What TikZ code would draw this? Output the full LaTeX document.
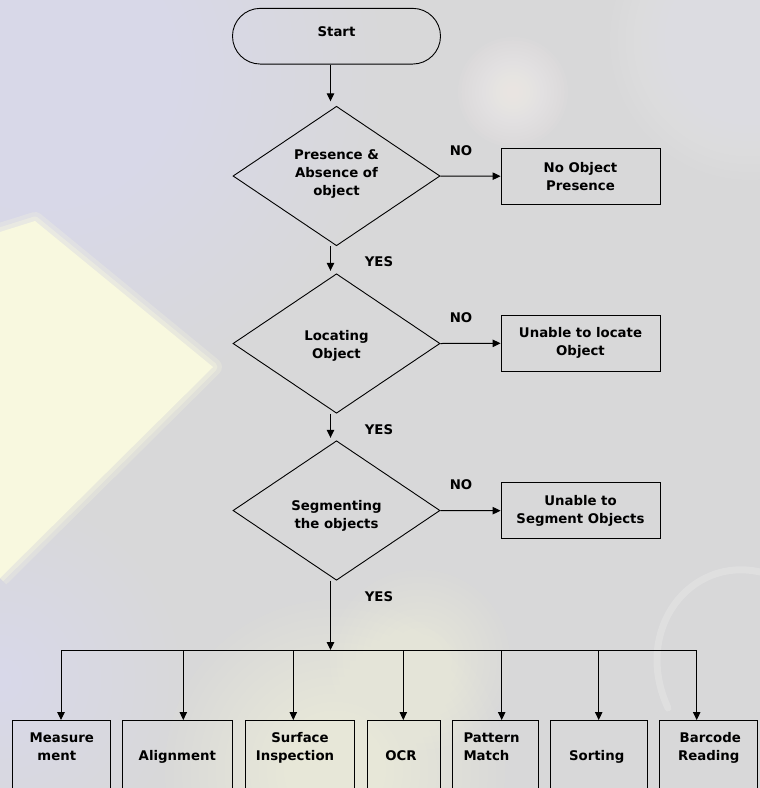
\documentclass[tikz,border=0pt]{standalone}
\usepackage{fontspec}
\setmainfont{DejaVu Sans}
\usetikzlibrary{shapes.geometric,arrows.meta}
\definecolor{bgbase}{HTML}{D8D8D9}
\definecolor{lav}{HTML}{E4E4FA}
\definecolor{yel}{HTML}{F8F8DF}
\definecolor{glow}{HTML}{F7F7D8}
\definecolor{spot}{HTML}{F7F2EF}
\definecolor{pale}{HTML}{EFEFF4}
\newcommand{\mytop}{\rule{0pt}{10.5pt}}
\newcommand{\myblob}[5]{\foreach \k in {1,...,#4}{\fill[#1,opacity=#5] #2 circle ({(\k*#3/#4)*1pt});}}
\begin{document}
\begin{tikzpicture}[x=1pt,y=-1pt,
  txt/.style={font=\bfseries\fontsize{13.3}{18}\selectfont, text=black, inner sep=0pt, align=center},
  box/.style={draw=black, line width=0.9pt, rectangle, inner sep=0pt},
  dia/.style={draw=black, line width=0.9pt, diamond, inner sep=0pt, minimum width=207pt, minimum height=139.5pt},
  ln/.style={draw=black, line width=1pt},
  arr/.style={ln, -{Triangle[length=8pt,width=7.5pt]}}]
\useasboundingbox (0,0) rectangle (760,788);
\clip (0,0) rectangle (760,788);
% ---------- washed-out background ----------
\fill[bgbase] (0,0) rectangle (760,788);
\myblob{lav}{(40,70)}{340}{24}{0.055}
\myblob{lav}{(0,680)}{180}{16}{0.06}
\myblob{pale}{(750,40)}{140}{18}{0.05}
\myblob{spot}{(513,92)}{55}{16}{0.07}
\myblob{glow}{(335,770)}{170}{20}{0.06}
\myblob{glow}{(420,660)}{90}{14}{0.05}
\draw[yel, opacity=0.25, line width=18pt, line join=round] (0,232) -- (35,221) -- (213,367) -- (0,578);
\draw[yel, opacity=0.4, line width=9pt, line join=round] (0,232) -- (35,221) -- (213,367) -- (0,578);
\fill[yel] (0,232) -- (35,221) -- (213,367) -- (0,578) -- cycle;
\draw[white, opacity=0.18, line width=7pt, line cap=round] (760,572) .. controls (690,556) and (632,630) .. (668,708);
% ---------- flowchart ----------
\node[box, rounded corners=27.8pt, minimum width=208pt, minimum height=55.7pt] (start) at (336.5,36.2) {};
\node[txt] (startt) at (336.5,31.5) {Start};

\node[dia] (d1) at (336.5,176) {};
\node[txt] (d1t) at (336.5,173.5) {Presence \&\\Absence of\\object};
\node[dia] (d2) at (336.5,343.5) {};
\node[txt] (d2t) at (336.5,346) {Locating\\Object};
\node[dia] (d3) at (336.5,510.5) {};
\node[txt] (d3t) at (336.5,516) {Segmenting\\the objects};

\node[box, txt, minimum width=159pt, minimum height=56pt] (n1) at (580.5,176.2) {No Object\\Presence};
\node[box, txt, minimum width=159pt, minimum height=56pt] (n2) at (580.5,343.3) {Unable to locate\\Object};
\node[box, txt, minimum width=159pt, minimum height=56pt] (n3) at (580.5,510.7) {Unable to\\Segment Objects};

\node[txt] (no1) at (461,150.5) {NO};
\node[txt] (no2) at (461,318) {NO};
\node[txt] (no3) at (461,485) {NO};
\node[txt] (yes1) at (379,261.3) {YES};
\node[txt] (yes2) at (379,429.6) {YES};
\node[txt] (yes3) at (379,596.2) {YES};

\draw[arr] ([xshift=-6pt]start.south) -- ([xshift=-6pt,yshift=4.5pt]d1.north);
\draw[arr] ([xshift=-6pt]d1.south) -- ([xshift=-6pt,yshift=2.5pt]d2.north);
\draw[arr] ([xshift=-6pt]d2.south) -- ([xshift=-6pt,yshift=2.5pt]d3.north);
\draw[arr] (d1.east) -- (n1.west);
\draw[arr] (d2.east) -- (n2.west);
\draw[arr] (d3.east) -- (n3.west);

% bottom boxes
\node[box, minimum width=97.6pt, minimum height=80pt, anchor=north] (b1) at (61.5,720) {};
\node[box, minimum width=109.6pt, minimum height=80pt, anchor=north] (b2) at (177.5,720) {};
\node[box, minimum width=109.3pt, minimum height=80pt, anchor=north] (b3) at (299.65,720) {};
\node[box, minimum width=73pt, minimum height=80pt, anchor=north] (b4) at (403.8,720) {};
\node[box, minimum width=85.3pt, minimum height=80pt, anchor=north] (b5) at (495.35,720) {};
\node[box, minimum width=97.3pt, minimum height=80pt, anchor=north] (b6) at (598.65,720) {};
\node[box, minimum width=98.4pt, minimum height=80pt, anchor=north] (b7) at (708.5,720) {};

\node[txt, anchor=north] (t1) at (61.8,732.2) {\mytop Measure\\ment\kern10pt};
\node[txt, anchor=north] (t2) at (177.3,749.5) {\mytop Alignment};
\node[txt, anchor=north] (t3) at (300,732.2) {\mytop Surface\\Inspection\kern10pt};
\node[txt, anchor=north] (t4) at (401,749.5) {\mytop OCR};
\node[txt, anchor=north west, align=left] (t5) at (463.3,732.2) {\mytop Pattern\\Match};
\node[txt, anchor=north] (t6) at (596.7,749.5) {\mytop Sorting};
\node[txt, anchor=north] (t7) at (710.3,732.2) {\mytop Barcode\\Reading\kern3pt};

% bus
\coordinate (bus) at (330.5,650);
\draw[arr] ([xshift=-6pt]d3.south) -- (bus);
\foreach \i/\x in {1/61,2/183.3,3/293.3,4/403.3,5/501.7,6/598.7,7/696.7}
  \coordinate (bx\i) at (\x,650);
\draw[ln] (bx1) -- (bx7);
\foreach \i in {1,...,7}
  \draw[arr] (bx\i) -- (bx\i |- b\i.north);
\end{tikzpicture}
\end{document}
